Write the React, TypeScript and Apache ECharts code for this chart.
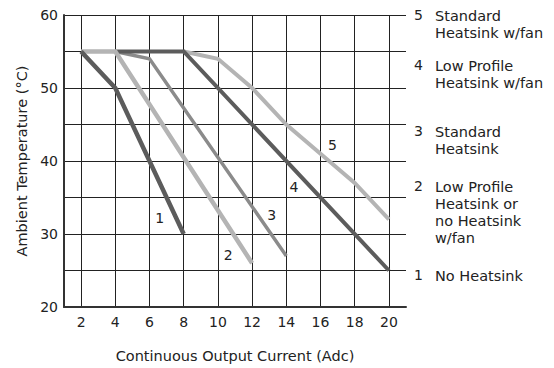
import React, { useEffect, useRef } from "react";
import * as echarts from "echarts";

// Derating curves: [current (Adc), ambient temp (°C)]
const curve1: [number, number][] = [[2, 55], [4, 50], [8, 30]];
const curve2: [number, number][] = [[2, 55], [4, 55], [12, 26]];
const curve3: [number, number][] = [[4, 55], [6, 54], [14, 27]];
const curve4: [number, number][] = [[4, 55], [8, 55], [20, 25]];
const curve5: [number, number][] = [[8, 55], [10, 54], [12, 50], [14, 45], [16, 41], [18, 37], [20, 32]];

// Curve number label positions (data coords)
const curveLabels: { name: string; at: [number, number] }[] = [
  { name: "1", at: [6.6, 32.2] },
  { name: "2", at: [10.6, 27.1] },
  { name: "3", at: [13.15, 32.6] },
  { name: "4", at: [14.45, 36.4] },
  { name: "5", at: [16.7, 42.2] },
];

const legendNumbers = ["5", "4", "3", "2", "1"];
const legendTexts = [
  ["Standard", "Heatsink w/fan"],
  ["Low Profile", "Heatsink w/fan"],
  ["Standard", "Heatsink"],
  ["Low Profile", "Heatsink or", "no Heatsink", "w/fan"],
  ["No Heatsink"],
];

const xName = "Continuous Output Current (Adc)";
const yName = "Ambient Temperature (°C)";

const FONT = "DejaVu Sans";
const DARK = "#5c5c5c";
const MID = "#8b8b8b";
const LIGHT = "#b4b4b4";

export default function App() {
  const ref = useRef<HTMLDivElement>(null);
  useEffect(() => {
    if (!ref.current) return;
    const chart = echarts.init(ref.current, undefined, { renderer: "svg" });

    const mkLabel = (i: number) => ({
      symbol: "circle",
      symbolSize: 0,
      silent: true,
      label: {
        show: true,
        position: "inside",
        formatter: curveLabels[i].name,
        color: "#222",
        fontSize: 14,
        fontFamily: FONT,
      },
      data: [{ coord: curveLabels[i].at }],
    });

    const legendY = [17, 67, 133, 188, 277];
    const graphics: any[] = [];
    legendNumbers.forEach((n, i) => {
      graphics.push({
        type: "text",
        left: 414,
        top: legendY[i] - 9,
        style: { text: n, fontSize: 14, fontFamily: FONT, fill: "#222" },
      });
      legendTexts[i].forEach((t, j) => {
        graphics.push({
          type: "text",
          left: 435,
          top: legendY[i] - 9 + j * 17.3,
          style: { text: t, fontSize: 14.5, fontFamily: FONT, fill: "#222" },
        });
      });
    });

    const lineSeries = (data: [number, number][], color: string, width: number, i: number, z: number) => ({
      type: "line",
      data,
      symbol: "none",
      z,
      lineStyle: { color, width, cap: "butt", join: "miter" },
      markPoint: mkLabel(i),
    });

    chart.setOption({
      animation: false,
      grid: { left: 64, top: 15, right: 148, bottom: 56 },
      graphic: graphics,
      xAxis: {
        type: "value",
        min: 1,
        max: 21,
        splitNumber: 10,
        minInterval: 2,
        maxInterval: 2,
        name: xName,
        nameLocation: "middle",
        nameGap: 41,
        nameTextStyle: { fontSize: 14.5, fontFamily: FONT, color: "#222" },
        axisLine: { show: true, lineStyle: { color: "#333", width: 2 } },
        axisTick: { show: false },
        axisLabel: {
          showMinLabel: false,
          showMaxLabel: false,
          fontSize: 14,
          fontFamily: FONT,
          color: "#222",
          margin: 8,
        },
        splitLine: { show: true, showMinLine: false, showMaxLine: false, lineStyle: { color: "#222", width: 1 } },
      },
      yAxis: {
        type: "value",
        min: 20,
        max: 60,
        interval: 5,
        name: yName,
        nameLocation: "middle",
        nameGap: 29,
        nameTextStyle: { fontSize: 14.5, fontFamily: FONT, color: "#222" },
        axisLine: { show: true, lineStyle: { color: "#333", width: 2 } },
        axisTick: { show: false },
        axisLabel: {
          formatter: (v: number) => (v % 10 === 0 ? String(v) : ""),
          fontSize: 14,
          fontFamily: FONT,
          color: "#222",
          margin: 6,
        },
        splitLine: { show: true, lineStyle: { color: "#222", width: 1 } },
      },
      series: [
        lineSeries(curve5, LIGHT, 4, 4, 2),
        lineSeries(curve3, MID, 3.5, 2, 3),
        lineSeries(curve4, DARK, 4, 3, 4),
        lineSeries(curve2, LIGHT, 4.5, 1, 5),
        lineSeries(curve1, DARK, 4.5, 0, 6),
      ],
    });
    return () => chart.dispose();
  }, []);
  return (
    <div
      ref={ref}
      style={{ position: "fixed", left: 0, top: 0, width: 554, height: 368, background: "#fff" }}
    />
  );
}
